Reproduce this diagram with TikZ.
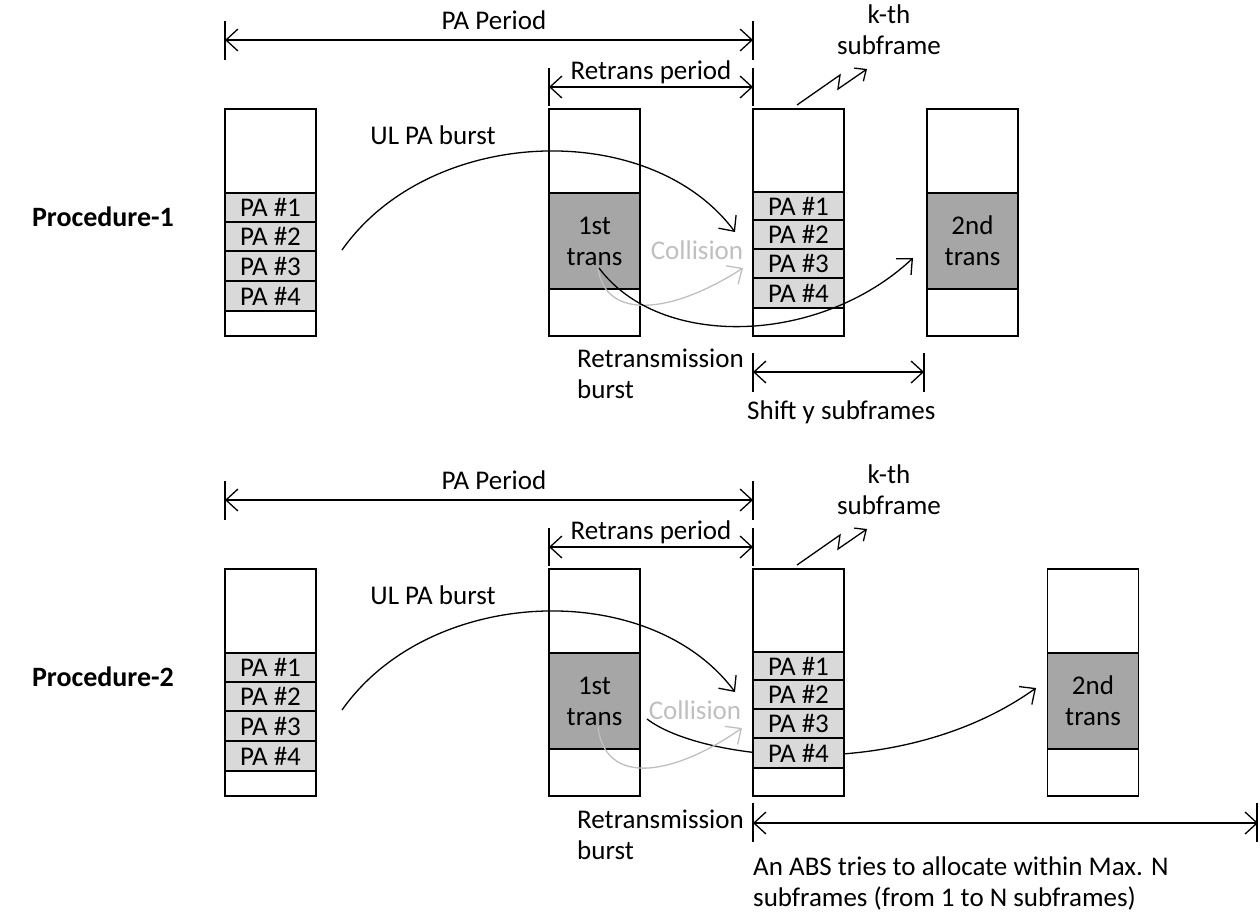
\documentclass[tikz,border=0pt]{standalone}
\usepackage{fontspec}
\setmainfont{Carlito}
\usetikzlibrary{arrows.meta}
\definecolor{palight}{HTML}{D9D9D9}
\definecolor{trdark}{HTML}{A6A6A6}
\definecolor{colgray}{HTML}{BFBFBF}
\begin{document}
\begin{tikzpicture}[x=1pt,y=-1pt,
  font=\fontsize{27}{31}\selectfont,
  frame/.style={draw, line width=1.4pt, fill=white, minimum width=91pt, minimum height=227pt, inner sep=0pt, outer sep=0pt},
  pacell/.style={draw, line width=1.4pt, fill=palight, minimum width=91pt, inner sep=0pt, outer sep=0pt},
  trcell/.style={draw, line width=1.4pt, fill=trdark, minimum width=91pt, minimum height=96pt, inner sep=0pt, outer sep=0pt, align=center},
  barb/.tip={Straight Barb[length=12pt,width=22pt,line width=1.3pt]},
  dimline/.style={line width=1.3pt, {barb}-{barb}},
  tickline/.style={line width=1.3pt},
  flow/.style={line width=1.3pt, -{barb}},
  grayflow/.style={line width=1.3pt, draw=colgray, -{barb}},
  txt/.style={inner sep=0pt},
  proclbl/.style={inner sep=0pt, font=\fontsize{28}{31}\selectfont\bfseries},
]
\useasboundingbox (0,0) rectangle (1260,911);

% ================= Procedure-1 =================
\node[proclbl] (proc1) at (103,217) {Procedure-1};

% dimension coordinates
\coordinate (p1paL) at (225,40);  \coordinate (p1paR) at (753,40);
\coordinate (p1paLt) at (225,21); \coordinate (p1paLb) at (225,60);
\coordinate (p1paRt) at (753,21); \coordinate (p1paRb) at (753,60);
\coordinate (p1rtL) at (549,87);  \coordinate (p1rtR) at (753,87);
\coordinate (p1rtLt) at (549,68); \coordinate (p1rtLb) at (549,106);
\coordinate (p1rtRt) at (753,68); \coordinate (p1rtRb) at (753,106);
\coordinate (p1shL) at (753,372); \coordinate (p1shR) at (924,372);
\coordinate (p1shLt) at (753,353); \coordinate (p1shLb) at (753,392);
\coordinate (p1shRt) at (924,353); \coordinate (p1shRb) at (924,392);

\draw[dimline] (p1paL) -- (p1paR);
\draw[tickline] (p1paLt) -- (p1paLb);
\draw[tickline] (p1paRt) -- (p1paRb);
\node[txt] (p1patxt) at (494,20) {PA Period};

\draw[dimline] (p1rtL) -- (p1rtR);
\draw[tickline] (p1rtLt) -- (p1rtLb);
\draw[tickline] (p1rtRt) -- (p1rtRb);
\node[txt] (p1rttxt) at (651,72) {Retrans period};

% box A
\node[frame] (p1A) at (270.5,222.5) {};
\node[pacell, minimum height=29pt] (p1A1) at (270.5,207.5) {PA \#1};
\node[pacell, minimum height=29pt] (p1A2) at (270.5,236.5) {PA \#2};
\node[pacell, minimum height=30pt] (p1A3) at (270.5,266) {PA \#3};
\node[pacell, minimum height=30pt] (p1A4) at (270.5,296) {PA \#4};
% box B
\node[frame] (p1B) at (594.5,222.5) {};
\node[trcell] (p1B1) at (594.5,241) {1st\\trans};
% box C
\node[frame] (p1C) at (798.5,222.5) {};
\node[pacell, minimum height=28pt] (p1C1) at (798.5,206) {PA \#1};
\node[pacell, minimum height=29pt] (p1C2) at (798.5,234.5) {PA \#2};
\node[pacell, minimum height=29pt] (p1C3) at (798.5,263.5) {PA \#3};
\node[pacell, minimum height=30pt] (p1C4) at (798.5,293) {PA \#4};
% box D
\node[frame] (p1D) at (972.5,222.5) {};
\node[trcell] (p1D1) at (972.5,241) {2nd\\trans};

% k-th subframe
\node[txt, align=center] (p1kth) at (889,30) {k-th\\subframe};
\coordinate (p1z1) at (797,105); \coordinate (p1z2) at (840,75);
\coordinate (p1z3) at (838,89);  \coordinate (p1z4) at (867,69);
\draw[line width=1.3pt, -{Straight Barb[length=9pt,width=16pt,line width=1.3pt]}] (p1z1) -- (p1z2) -- (p1z3) -- (p1z4);

% curves
\node[txt] (p1ul) at (433,135) {UL PA burst};
\coordinate (p1ulS) at (342,250); \coordinate (p1ulE) at (735,232);
\draw[flow] (p1ulS) .. controls (430,125) and (650,118) .. (p1ulE);

\node[txt, text=colgray] (p1col) at (697,250) {Collision};
\coordinate (p1cS) at (598,268); \coordinate (p1cE) at (743,268);
\draw[grayflow] (p1cS) .. controls (605,320) and (670,315) .. (p1cE);

\coordinate (p1rS) at (599,268); \coordinate (p1rE) at (913,258);
\draw[flow] (p1rS) .. controls (660,350) and (820,345) .. (p1rE);

\node[txt, align=left, anchor=west] (p1rb) at (577,374) {Retransmission\\burst};

\draw[dimline] (p1shL) -- (p1shR);
\draw[tickline] (p1shLt) -- (p1shLb);
\draw[tickline] (p1shRt) -- (p1shRb);
\node[txt, anchor=west] (p1shtxt) at (747,412) {Shift y subframes};

% ================= Procedure-2 =================
\node[proclbl] (proc2) at (103,677) {Procedure-2};

\coordinate (p2paL) at (225,500);  \coordinate (p2paR) at (753,500);
\coordinate (p2paLt) at (225,481); \coordinate (p2paLb) at (225,520);
\coordinate (p2paRt) at (753,481); \coordinate (p2paRb) at (753,520);
\coordinate (p2rtL) at (549,547);  \coordinate (p2rtR) at (753,547);
\coordinate (p2rtLt) at (549,528); \coordinate (p2rtLb) at (549,566);
\coordinate (p2rtRt) at (753,528); \coordinate (p2rtRb) at (753,566);
\coordinate (p2nL) at (753,823); \coordinate (p2nR) at (1258,823);
\coordinate (p2nLt) at (753,803); \coordinate (p2nLb) at (753,842);
\coordinate (p2nRt) at (1257,803); \coordinate (p2nRb) at (1257,842);

\draw[dimline] (p2paL) -- (p2paR);
\draw[tickline] (p2paLt) -- (p2paLb);
\draw[tickline] (p2paRt) -- (p2paRb);
\node[txt] (p2patxt) at (494,480) {PA Period};

\draw[dimline] (p2rtL) -- (p2rtR);
\draw[tickline] (p2rtLt) -- (p2rtLb);
\draw[tickline] (p2rtRt) -- (p2rtRb);
\node[txt] (p2rttxt) at (651,532) {Retrans period};

% retransmission curve behind box C
\coordinate (p2rS) at (647,719); \coordinate (p2rE) at (1036,688);
\draw[flow] (p2rS) .. controls (700,760) and (900,785) .. (p2rE);

% box A
\node[frame] (p2A) at (270.5,682.5) {};
\node[pacell, minimum height=29pt] (p2A1) at (270.5,667.5) {PA \#1};
\node[pacell, minimum height=29pt] (p2A2) at (270.5,696.5) {PA \#2};
\node[pacell, minimum height=30pt] (p2A3) at (270.5,726) {PA \#3};
\node[pacell, minimum height=30pt] (p2A4) at (270.5,756) {PA \#4};
% box B
\node[frame] (p2B) at (594.5,682.5) {};
\node[trcell] (p2B1) at (594.5,701) {1st\\trans};
% box C
\node[frame] (p2C) at (798.5,682.5) {};
\node[pacell, minimum height=28pt] (p2C1) at (798.5,666) {PA \#1};
\node[pacell, minimum height=29pt] (p2C2) at (798.5,694.5) {PA \#2};
\node[pacell, minimum height=29pt] (p2C3) at (798.5,723.5) {PA \#3};
\node[pacell, minimum height=30pt] (p2C4) at (798.5,753) {PA \#4};
% box D
\node[frame] (p2D) at (1093,682.5) {};
\node[trcell] (p2D1) at (1093,701) {2nd\\trans};

\node[txt, align=center] (p2kth) at (889,490) {k-th\\subframe};
\coordinate (p2z1) at (797,565); \coordinate (p2z2) at (840,535);
\coordinate (p2z3) at (838,549);  \coordinate (p2z4) at (867,529);
\draw[line width=1.3pt, -{Straight Barb[length=9pt,width=16pt,line width=1.3pt]}] (p2z1) -- (p2z2) -- (p2z3) -- (p2z4);

\node[txt] (p2ul) at (433,595) {UL PA burst};
\coordinate (p2ulS) at (342,710); \coordinate (p2ulE) at (735,692);
\draw[flow] (p2ulS) .. controls (430,585) and (650,578) .. (p2ulE);

\node[txt, text=colgray] (p2col) at (695,710) {Collision};
\coordinate (p2cS) at (598,727); \coordinate (p2cE) at (742,728);
\draw[grayflow] (p2cS) .. controls (605,785) and (670,778) .. (p2cE);

\node[txt, align=left, anchor=west] (p2rb) at (577,835) {Retransmission\\burst};

\draw[dimline] (p2nL) -- (p2nR);
\draw[tickline] (p2nLt) -- (p2nLb);
\draw[tickline] (p2nRt) -- (p2nRb);
\node[txt, align=left, anchor=west] (p2ntxt) at (753,883) {An ABS tries to allocate within Max. N\\subframes (from 1 to N subframes)};
\end{tikzpicture}
\end{document}
